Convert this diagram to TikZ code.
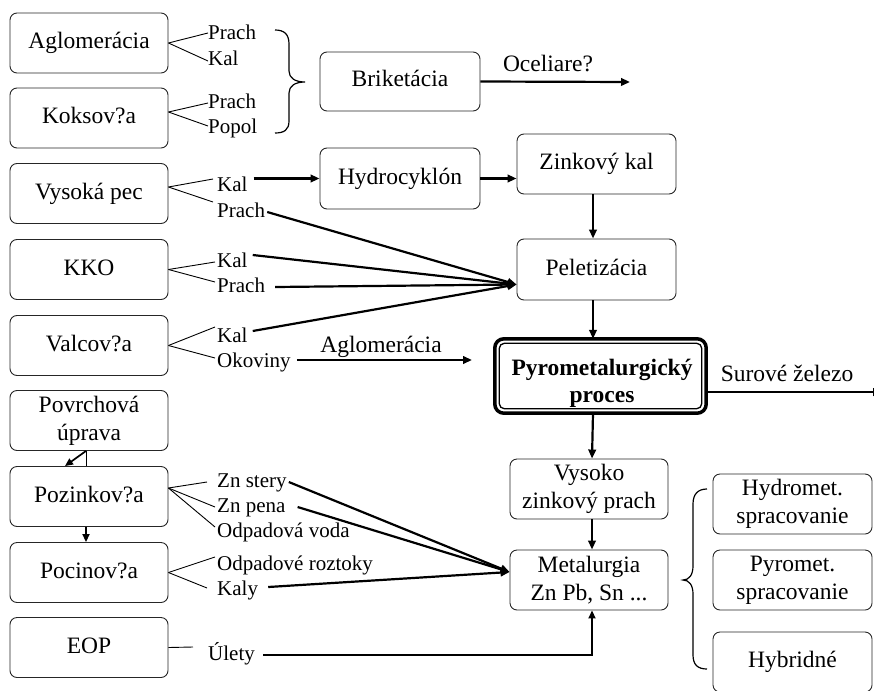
\documentclass[tikz,border=0pt]{standalone}
\usepackage{fontspec}
\setmainfont{Liberation Serif}
\usetikzlibrary{arrows.meta,calc}
\begin{document}
\begin{tikzpicture}[x=1pt,y=-1pt,
  box/.style={draw=black!85, line width=0.9pt, rounded corners=7pt, minimum width=158pt, minimum height=60pt, font=\fontsize{23.5}{28}\selectfont, inner sep=0pt},
  onel/.style={text height=16pt, text depth=5pt},
  lbl/.style={font=\fontsize{21}{24}\selectfont, inner sep=0pt, anchor=base west, text height=14pt, text depth=4pt},
  big/.style={font=\fontsize{23.5}{28}\selectfont, inner sep=0pt, anchor=base},
  lead/.style={line width=0.9pt},
  arr/.style={line width=2.2pt, -{Triangle[length=9pt,width=7.5pt]}},
  thinarr/.style={line width=1.7pt, -{Triangle[length=8pt,width=7pt]}},
  brc/.style={line width=1.2pt},
]
\useasboundingbox (0,0) rectangle (874,690);

% left column boxes
\node[box,onel] (agl) at (89,43) {Aglomerácia};
\node[box,onel] (kok) at (89,118) {Koksov?a};
\node[box,onel] (vys) at (89,193.5) {Vysoká pec};
\node[box,onel] (kko) at (89,269.5) {KKO};
\node[box,onel] (val) at (89,345.5) {Valcov?a};
\node[box,align=center] (pov) at (89,420.5) {Povrchová\\úprava};
\node[box,onel] (poz) at (89,496.5) {Pozinkov?a};
\node[box,onel] (poc) at (89,572.5) {Pocinov?a};
\node[box,onel] (eop) at (89,647.5) {EOP};

% middle and right boxes
\node[box,onel,minimum width=160pt,minimum height=59pt] (bri) at (400,81.5) {Briketácia};
\node[box,onel,minimum width=160pt,minimum height=61pt] (hyd) at (400,178.5) {Hydrocyklón};
\node[box,onel,minimum width=159pt] (zin) at (596.5,164) {Zinkový kal};
\node[box,onel,minimum width=159pt,minimum height=61pt] (pel) at (596.5,269.5) {Peletizácia};
\node[minimum width=211pt,minimum height=74pt,inner sep=0pt] (pyr) at (600.5,376) {};
\draw[line width=3.5pt, rounded corners=9pt] (pyr.north west) rectangle (pyr.south east);
\draw[line width=1.3pt, rounded corners=5pt] ([shift={(4.5pt,-4.5pt)}]pyr.north west) rectangle ([shift={(-4.5pt,4.5pt)}]pyr.south east);
\node[font=\fontsize{23.5}{27}\selectfont\bfseries, align=center, inner sep=0pt] (pyrt) at (602,383) {Pyrometalurgický\\proces};
\node[box,align=center] (vzp) at (589,489) {Vysoko\\zinkový prach};
\node[box,align=center] (met) at (589,580) {Metalurgia\\Zn Pb, Sn ...};
\node[box,align=center,minimum width=159pt] (hydm) at (792.5,504) {Hydromet.\\spracovanie};
\node[box,align=center,minimum width=159pt] (pyrm) at (792.5,580) {Pyromet.\\spracovanie};
\node[box,onel,minimum width=159pt] (hyb) at (792.5,662) {Hybridné};

% small labels
\node[lbl] (aglP) at (208,40) {Prach};
\node[lbl] (aglK) at (208,66) {Kal};
\node[lbl] (kokP) at (208,108) {Prach};
\node[lbl] (kokPo) at (208,133) {Popol};
\node[lbl] (vysK) at (217,191) {Kal};
\node[lbl] (vysP) at (217,217) {Prach};
\node[lbl] (kkoK) at (217,267) {Kal};
\node[lbl] (kkoP) at (217,292) {Prach};
\node[lbl] (valK) at (217,342) {Kal};
\node[lbl] (valO) at (217,367) {Okoviny};
\node[lbl] (pozS) at (217,487) {Zn stery};
\node[lbl] (pozP) at (217,512) {Zn pena};
\node[lbl] (pozO) at (217,537) {Odpadová voda};
\node[lbl] (pocO) at (217,570) {Odpadové roztoky};
\node[lbl] (pocK) at (217,595) {Kaly};
\node[lbl] (uly) at (208,660) {Úlety};

% arrow labels
\node[big] (oce) at (548,72) {Oceliare?};
\node[big] (aglm) at (381,352) {Aglomerácia};
\node[big] (sur) at (787,381) {Surové železo};

% leaders
\draw[lead] (agl.east) -- ([yshift=2pt]aglP.west);
\draw[lead] (agl.east) -- (aglK.west);
\draw[lead] ([yshift=6pt]kok.east) -- (kokP.west);
\draw[lead] ([yshift=6pt]kok.east) -- ([yshift=2pt]kokPo.west);
\draw[lead] ([yshift=6.5pt]vys.east) -- ([xshift=-4pt,yshift=7pt]vysK.west);
\draw[lead] ([yshift=6.5pt]vys.east) -- ([xshift=-4pt,yshift=10pt]vysP.west);
\draw[lead] (kko.east) -- ([xshift=-2pt]kkoK.west);
\draw[lead] (kko.east) -- ([xshift=-2pt,yshift=5pt]kkoP.west);
\draw[lead] (val.east) -- ([xshift=-2pt,yshift=10pt]valK.west);
\draw[lead] (val.east) -- ([xshift=-2pt,yshift=4pt]valO.west);
\draw[lead] ([yshift=8.5pt]poz.east) -- ([xshift=-10pt]pozS.west);
\draw[lead] ([yshift=8.5pt]poz.east) -- ([xshift=-2pt]pozP.west);
\draw[lead] ([yshift=8.5pt]poz.east) -- ([xshift=-2pt,yshift=5pt]pozO.west);
\draw[lead] (poc.east) -- ([xshift=-2pt,yshift=8pt]pocO.west);
\draw[lead] (poc.east) -- ([xshift=-10pt,yshift=2pt]pocK.west);
\draw[lead] (eop.east) -- ([xshift=-15pt,yshift=8pt]uly.west);

% braces
\draw[brc] (275,30) .. controls (284,30) and (289,34) .. (289,44) -- (289,71)
  .. controls (289,78) and (295,82) .. (305,82)
  .. controls (295,82) and (289,86) .. (289,93) -- (289,121)
  .. controls (289,130) and (284,133) .. (275,133);
\draw[brc] (707,489) .. controls (698,489) and (693,494) .. (693,504) -- (693,566)
  .. controls (693,575) and (689,580) .. (683,580)
  .. controls (689,580) and (693,585) .. (693,594) -- (693,655)
  .. controls (693,665) and (698,669) .. (707,669);

% coordinates
\coordinate (ocend) at (630,82);
\coordinate (okend) at (472,360);
\coordinate (surend) at (882,392);
\coordinate (pelin) at ([yshift=-15pt]pel.west);
\coordinate (metin) at ([yshift=8pt]met.west);

% connectors
\draw[arr] (bri.east) -- (ocend);
\draw[arr] ([xshift=6pt]vysK.east |- hyd.west) -- (hyd.west);
\draw[arr] (hyd.east) -- (hyd.east -| zin.west);
\draw[arr] ([xshift=-3.5pt]zin.south) -- ([xshift=-3.5pt]pel.north);
\draw[arr] ([xshift=-3.5pt]pel.south) -- ([xshift=-7.5pt]pyr.north);
\draw[arr] ([xshift=-7.5pt]pyr.south) -- ([xshift=3pt]vzp.north);
\draw[arr] ([xshift=3pt]vzp.south) -- ([xshift=3pt]met.north);
\draw[arr] ([yshift=-16pt]pyr.east) -- (surend);

\draw[arr] ([xshift=2pt]vysP.east) -- (pelin);
\draw[arr] ([xshift=5pt,yshift=7pt]kkoK.east) -- (pelin);
\draw[arr] ([xshift=10pt]kkoP.east) -- (pelin);
\draw[arr] ([xshift=5pt,yshift=6pt]valK.east) -- (pelin);
\draw[arr] ([xshift=6pt,yshift=2pt]valO.east) -- (okend);

\draw[arr] ([xshift=2pt]pozS.east) -- (metin);
\draw[arr] ([xshift=12pt]pozP.east) -- (metin);
\draw[arr] ([xshift=10pt,yshift=3pt]pocK.east) -- (metin);
\draw[thinarr] ([xshift=8pt]uly.east) -| ([xshift=3pt]met.south);

\draw[lead] ([xshift=-3pt]pov.south) -- ([xshift=-3pt]poz.north);
\draw[thinarr] ([xshift=-3pt]pov.south) -- ([xshift=-24pt]poz.north);
\draw[thinarr] ([xshift=-3pt]poz.south) -- ([xshift=-3pt]poc.north);
\end{tikzpicture}
\end{document}
